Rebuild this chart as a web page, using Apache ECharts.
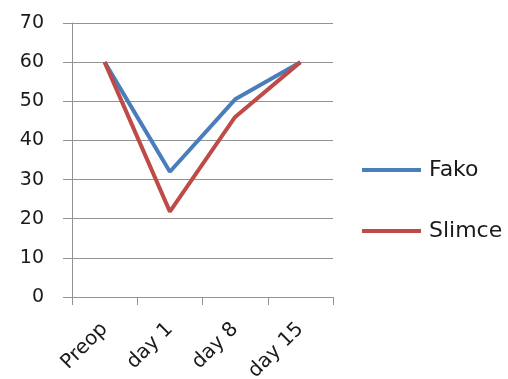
<!DOCTYPE html>
<html>
<head>
<meta charset="utf-8">
<script src="https://cdn.jsdelivr.net/npm/echarts@6/dist/echarts.min.js"></script>
<style>
  html, body { margin: 0; padding: 0; background: #ffffff; }
  #chart { width: 508px; height: 379px; }
</style>
</head>
<body>
<div id="chart"></div>
<script>
// Time points and measured values for the two groups
const categories = ['Preop', 'day 1', 'day 8', 'day 15'];
const fako = [60, 32, 50.5, 60];
const slimce = [60, 21.8, 46, 60];
const yTicks = { min: 0, max: 70, interval: 10 };

const chart = echarts.init(document.getElementById('chart'), null, { renderer: 'canvas' });

const axisGrey = '#939393';

chart.setOption({
  backgroundColor: '#ffffff',
  animation: false,
  grid: {
    left: 72, right: 175, top: 23, bottom: 82,
    containLabel: false,
    outerBoundsMode: 'none'
  },
  legend: {
    orient: 'vertical',
    left: 357,
    top: 154,
    icon: 'rect',
    itemWidth: 59,
    itemHeight: 4,
    itemGap: 39,
    textStyle: { fontFamily: 'DejaVu Sans', fontSize: 22, color: '#1a1a1a', padding: [0, 0, 0, 3] },
    data: ['Fako', 'Slimce']
  },
  xAxis: {
    type: 'category',
    data: categories,
    boundaryGap: true,
    axisLine: { lineStyle: { color: axisGrey, width: 1 } },
    axisTick: { show: true, length: 8, lineStyle: { color: axisGrey } },
    axisLabel: {
      rotate: 45,
      margin: 29,
      fontFamily: 'DejaVu Sans',
      fontSize: 20,
      color: '#1a1a1a'
    },
    splitLine: { show: false }
  },
  yAxis: {
    type: 'value',
    min: yTicks.min,
    max: yTicks.max,
    interval: yTicks.interval,
    axisLine: { show: true, lineStyle: { color: axisGrey, width: 1 } },
    axisTick: { show: true, length: 9, lineStyle: { color: axisGrey } },
    axisLabel: { margin: 28, fontFamily: 'DejaVu Sans', fontSize: 19, color: '#1a1a1a' },
    splitLine: { show: true, lineStyle: { color: axisGrey, width: 1 } }
  },
  series: [
    {
      name: 'Fako',
      type: 'line',
      data: fako,
      symbol: 'none',
      lineStyle: { color: '#4A7EBB', width: 4 },
      itemStyle: { color: '#4A7EBB' }
    },
    {
      name: 'Slimce',
      type: 'line',
      data: slimce,
      symbol: 'none',
      lineStyle: { color: '#BE4B48', width: 4 },
      itemStyle: { color: '#BE4B48' }
    }
  ]
});
</script>
</body>
</html>
